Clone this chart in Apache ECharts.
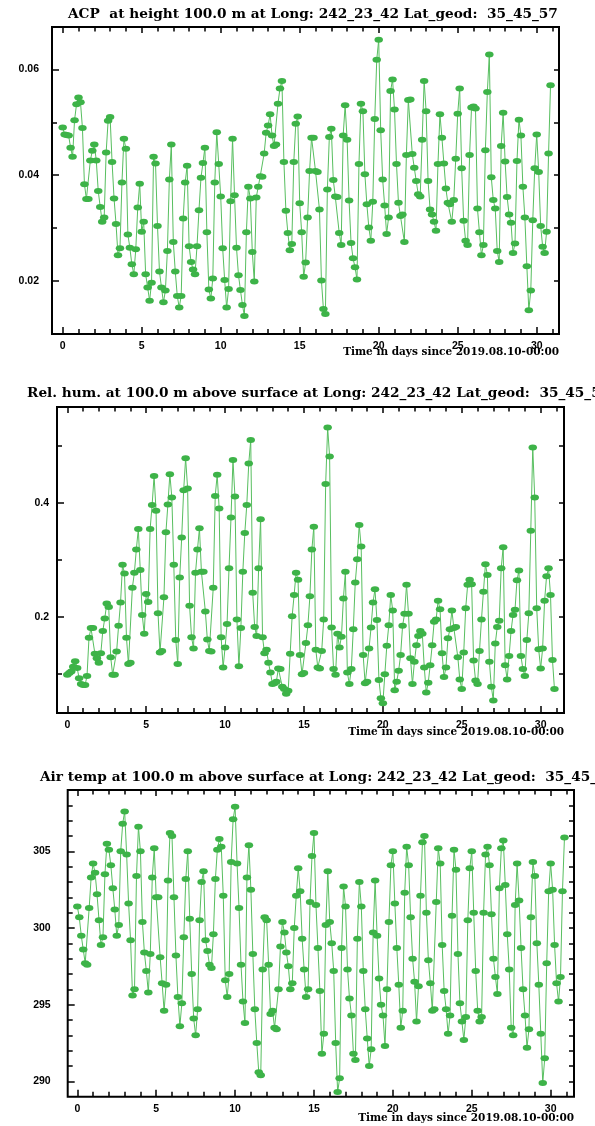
<!DOCTYPE html>
<html><head><meta charset="utf-8">
<script src="https://cdn.jsdelivr.net/npm/echarts@6/dist/echarts.min.js"></script>
<style>html,body{margin:0;padding:0;background:#fff}#c{width:595px;height:1126px}</style>
</head><body><div id="c"></div>
<script>
// Sampling interval of the series (3-hourly), in days since 2019.08.10-00:00
const STEP_DAYS = 0.125;

// ACP at height 100.0 m (8 samples per day, days 0..30)
const acp = [
0.0490,0.0477,0.0476,0.0475,0.0452,0.0435,0.0504,0.0534,
0.0547,0.0538,0.0489,0.0383,0.0355,0.0355,0.0428,0.0446,
0.0458,0.0428,0.0370,0.0340,0.0312,0.0320,0.0443,0.0503,
0.0510,0.0425,0.0356,0.0308,0.0249,0.0262,0.0386,0.0469,
0.0450,0.0288,0.0263,0.0232,0.0213,0.0260,0.0339,0.0384,
0.0293,0.0312,0.0213,0.0188,0.0163,0.0197,0.0435,0.0422,
0.0304,0.0218,0.0188,0.0160,0.0182,0.0257,0.0392,0.0458,
0.0274,0.0218,0.0172,0.0150,0.0172,0.0318,0.0386,0.0418,
0.0266,0.0236,0.0222,0.0213,0.0266,0.0334,0.0395,0.0423,
0.0452,0.0292,0.0184,0.0167,0.0205,0.0386,0.0481,0.0421,
0.0360,0.0262,0.0202,0.0150,0.0185,0.0351,0.0469,0.0362,
0.0263,0.0211,0.0183,0.0155,0.0134,0.0292,0.0378,0.0356,
0.0255,0.0199,0.0358,0.0378,0.0398,0.0397,0.0441,0.0480,
0.0494,0.0515,0.0475,0.0455,0.0458,0.0535,0.0564,0.0578,
0.0425,0.0333,0.0291,0.0258,0.0270,0.0425,0.0497,0.0511,
0.0347,0.0292,0.0208,0.0235,0.0320,0.0408,0.0471,0.0471,
0.0408,0.0406,0.0335,0.0201,0.0147,0.0138,0.0373,0.0472,
0.0488,0.0391,0.0360,0.0359,0.0291,0.0268,0.0475,0.0532,
0.0467,0.0352,0.0272,0.0243,0.0226,0.0203,0.0421,0.0535,
0.0521,0.0402,0.0345,0.0301,0.0276,0.0350,0.0506,0.0618,
0.0656,0.0485,0.0392,0.0343,0.0289,0.0320,0.0559,0.0581,
0.0524,0.0421,0.0348,0.0323,0.0326,0.0274,0.0438,0.0542,
0.0543,0.0440,0.0414,0.0389,0.0364,0.0360,0.0467,0.0578,
0.0521,0.0389,0.0335,0.0326,0.0312,0.0295,0.0421,0.0515,
0.0471,0.0422,0.0375,0.0348,0.0345,0.0312,0.0353,0.0431,
0.0516,0.0564,0.0413,0.0314,0.0276,0.0268,0.0438,0.0528,
0.0530,0.0526,0.0337,0.0292,0.0249,0.0268,0.0447,0.0557,
0.0628,0.0396,0.0353,0.0337,0.0257,0.0236,0.0455,0.0518,
0.0426,0.0359,0.0326,0.0310,0.0253,0.0271,0.0427,0.0505,
0.0475,0.0378,0.0320,0.0228,0.0145,0.0182,0.0315,0.0413,
0.0477,0.0406,0.0304,0.0265,0.0253,0.0293,0.0441,0.0570
];

// Relative humidity at 100.0 m above surface
const relHum = [
.098,.101,.104,.112,.122,.110,.092,.082,
.080,.080,.096,.163,.180,.180,.135,.127,
.119,.136,.175,.197,.223,.217,.129,.098,
.098,.139,.184,.225,.291,.276,.163,.117,
.119,.251,.277,.318,.354,.282,.203,.170,
.240,.226,.354,.396,.447,.386,.206,.137,
.140,.234,.348,.397,.450,.409,.291,.159,
.117,.269,.339,.422,.478,.425,.219,.164,
.144,.277,.318,.355,.279,.279,.209,.160,
.140,.139,.251,.412,.449,.390,.164,.111,
.146,.187,.285,.374,.475,.411,.195,.113,
.180,.279,.347,.396,.469,.510,.242,.182,
.166,.285,.371,.164,.136,.142,.119,.102,
.082,.083,.086,.109,.108,.077,.073,.065,
.070,.135,.201,.238,.277,.265,.133,.099,
.101,.154,.185,.236,.318,.358,.142,.111,
.109,.140,.195,.433,.532,.481,.181,.108,
.098,.170,.146,.165,.232,.279,.102,.082,
.108,.178,.260,.301,.361,.323,.133,.083,
.086,.144,.181,.225,.248,.194,.089,.057,
.048,.099,.149,.185,.238,.211,.071,.086,
.105,.133,.184,.205,.256,.205,.127,.082,
.121,.150,.166,.175,.170,.111,.067,.084,
.115,.150,.191,.195,.228,.213,.136,.094,
.111,.162,.178,.211,.180,.182,.129,.090,
.073,.137,.215,.256,.265,.257,.123,.088,
.082,.140,.195,.244,.292,.273,.121,.077,
.053,.153,.182,.193,.285,.322,.115,.090,
.131,.175,.203,.212,.264,.281,.131,.108,
.096,.159,.206,.351,.497,.409,.215,.143,
.109,.144,.228,.271,.285,.238,.124,.073
];

// Air temperature (K) at 100.0 m above surface
const airTemp = [
301.4,300.7,299.5,298.6,297.7,297.6,301.3,303.3,
304.2,303.6,302.2,300.5,298.9,299.4,303.5,305.5,
305.1,304.1,302.6,301.2,299.5,300.2,305.0,306.8,
307.6,304.8,301.6,299.2,295.6,296.0,303.4,306.6,
305.0,300.4,298.4,297.2,295.8,298.3,303.3,305.2,
302.0,302.0,298.1,296.4,294.6,296.3,303.1,306.2,
306.0,302.0,298.2,295.5,293.6,295.1,299.4,303.2,
305.0,300.6,297.0,294.1,293.0,294.7,300.5,303.0,
303.7,299.2,298.5,297.6,297.4,299.6,303.2,305.1,
305.8,305.3,302.1,296.6,295.5,297.0,304.3,307.1,
307.9,304.2,301.3,297.6,295.2,293.8,303.3,305.4,
302.5,298.3,294.7,292.5,290.6,290.4,297.3,300.7,
300.5,297.6,294.4,294.6,293.5,293.4,296.0,298.8,
300.4,299.7,298.4,297.5,296.0,296.4,300.0,302.1,
303.9,302.4,299.3,297.3,295.5,296.0,301.7,304.7,
306.2,301.5,298.7,295.9,291.8,293.1,300.2,303.7,
300.4,299.0,297.2,292.5,289.3,290.2,298.7,302.7,
301.4,297.3,295.4,294.3,291.8,291.4,299.3,303.0,
301.4,297.2,294.7,292.8,291.0,292.1,299.7,303.1,
299.5,296.7,295.0,294.3,292.3,296.0,300.4,304.1,
305.0,301.6,298.7,296.3,293.5,294.6,302.3,305.3,
304.1,300.7,298.0,296.5,293.9,296.2,302.1,305.6,
306.0,301.0,297.9,296.4,294.6,294.7,301.7,305.2,
304.2,298.9,295.9,294.7,293.1,294.3,300.8,305.1,
303.8,298.3,295.1,293.9,292.7,294.2,300.5,303.9,
305.0,301.0,297.2,294.6,293.9,294.2,301.0,304.8,
305.3,304.1,300.9,298.0,296.8,295.7,302.6,305.2,
305.7,302.8,299.6,297.3,293.5,293.0,301.5,304.2,
301.8,298.7,296.0,294.3,292.2,293.4,300.7,304.3,
303.4,299.0,296.3,293.1,289.9,291.5,297.7,302.4,
304.2,302.5,298.9,296.4,295.2,296.8,302.4,305.9
];

// Tick labels / tick positions
const xMajorTicks = [0,5,10,15,20,25,30];
const xMinorTicks = [1,2,3,4,6,7,8,9,11,12,13,14,16,17,18,19,21,22,23,24,26,27,28,29,31];
const acpMajorTicks = [0.02,0.04,0.06];
const acpMinorTicks = [0.03,0.05];
const rhMajorTicks = [0.2,0.4];
const rhMinorTicks = [0.1,0.3,0.5];
const tempMajorTicks = [290,295,300,305];
const tempMinorTicks = [291,292,293,294,296,297,298,299,301,302,303,304,306,307,308];

const titles = [
  'ACP  at height 100.0 m at Long: 242_23_42 Lat_geod:  35_45_57',
  'Rel. hum. at 100.0 m above surface at Long: 242_23_42 Lat_geod:  35_45_57',
  'Air temp at 100.0 m above surface at Long: 242_23_42 Lat_geod:  35_45_57'
];
const xName = 'Time in days since 2019.08.10-00:00';

const panels = [
  {data: acp, grid:{left:52, top:27, width:507, height:307}, xMin:-0.677, xMax:31.41,
   yMin:0.010, yMax:0.068, yMajor:acpMajorTicks, yMinor:acpMinorTicks, dig:2, yMargin:13,
   titleX:68, titleY:14.5, nameY:352.5},
  {data: relHum, grid:{left:57, top:407, width:507, height:306}, xMin:-0.653, xMax:31.48,
   yMin:0.031, yMax:0.568, yMajor:rhMajorTicks, yMinor:rhMinorTicks, dig:1, yMargin:8,
   titleX:27, titleY:393, nameY:732.5},
  {data: airTemp, grid:{left:67.7, top:790, width:506.3, height:306.7}, xMin:-0.61, xMax:31.48,
   yMin:289, yMax:309, yMajor:tempMajorTicks, yMinor:tempMinorTicks, dig:0, yMargin:17,
   titleX:40, titleY:777, nameY:1118}
];

const tickFont = {fontFamily:'Liberation Sans', fontWeight:'bold', fontSize:10.5, color:'#000'};
const ELLIPSE = 'path://M0,1A1,1 0 1,1 2,1A1,1 0 1,1 0,1Z';

const grids = [], xAxes = [], yAxes = [], series = [], graphics = [];
panels.forEach((p, gi) => {
  grids.push(Object.assign({show:true, borderColor:'#000', borderWidth:2, backgroundColor:'transparent',
    outerBoundsMode:'none', containLabel:false}, p.grid));
  const xBase = {gridIndex:gi, type:'value', min:p.xMin, max:p.xMax, axisLine:{show:false, onZero:false}, splitLine:{show:false}};
  const tickStyle = {color:'#000', width:1.5};
  xAxes.push(Object.assign({}, xBase, {position:'bottom',
    axisTick:{show:true, inside:true, length:7, customValues:xMajorTicks, lineStyle:tickStyle},
    axisLabel:Object.assign({show:true, customValues:xMajorTicks, margin:7}, tickFont)}));
  xAxes.push(Object.assign({}, xBase, {position:'bottom',
    axisTick:{show:true, inside:true, length:5, customValues:xMinorTicks, lineStyle:tickStyle}, axisLabel:{show:false}}));
  xAxes.push(Object.assign({}, xBase, {position:'top',
    axisTick:{show:true, inside:true, length:6, customValues:xMajorTicks, lineStyle:tickStyle}, axisLabel:{show:false}}));
  xAxes.push(Object.assign({}, xBase, {position:'top',
    axisTick:{show:true, inside:true, length:4.5, customValues:xMinorTicks, lineStyle:tickStyle}, axisLabel:{show:false}}));
  const yBase = {gridIndex:gi, type:'value', min:p.yMin, max:p.yMax, axisLine:{show:false, onZero:false}, splitLine:{show:false}};
  yAxes.push(Object.assign({}, yBase, {position:'left',
    axisTick:{show:true, inside:true, length:7, customValues:p.yMajor, lineStyle:tickStyle},
    axisLabel:Object.assign({show:true, customValues:p.yMajor, margin:p.yMargin,
      formatter: v => Number(v).toFixed(p.dig)}, tickFont)}));
  yAxes.push(Object.assign({}, yBase, {position:'left',
    axisTick:{show:true, inside:true, length:5, customValues:p.yMinor, lineStyle:tickStyle}, axisLabel:{show:false}}));
  yAxes.push(Object.assign({}, yBase, {position:'right',
    axisTick:{show:true, inside:true, length:5, customValues:p.yMajor, lineStyle:tickStyle}, axisLabel:{show:false}}));
  yAxes.push(Object.assign({}, yBase, {position:'right',
    axisTick:{show:true, inside:true, length:5, customValues:p.yMinor, lineStyle:tickStyle}, axisLabel:{show:false}}));
  series.push({type:'line', xAxisIndex:gi*4, yAxisIndex:gi*4,
    data: p.data.map((v, k) => [k * STEP_DAYS, v]),
    symbol: ELLIPSE, symbolSize:[8.5, 6], showSymbol:true, showAllSymbol:true,
    itemStyle:{color:'#3db348'}, lineStyle:{color:'#58bf60', width:1}, silent:true, z:3});
  graphics.push({type:'text', x:p.titleX, y:p.titleY, silent:true,
    style:{text:titles[gi], font:'bold 13.7px "DejaVu Serif"', fill:'#000', textVerticalAlign:'middle', verticalAlign:'middle'}});
  graphics.push({type:'text', x:p.grid.left + p.grid.width, y:p.nameY, silent:true,
    style:{text:xName, font:'bold 10.5px "DejaVu Serif"', fill:'#000', textAlign:'right', align:'right', textVerticalAlign:'middle', verticalAlign:'middle'}});
});

const chart = echarts.init(document.getElementById('c'), null, {renderer:'canvas'});
chart.setOption({
  animation:false,
  backgroundColor:'#fff',
  grid: grids, xAxis: xAxes, yAxis: yAxes, series: series, graphic: graphics
});
</script>
</body></html>
